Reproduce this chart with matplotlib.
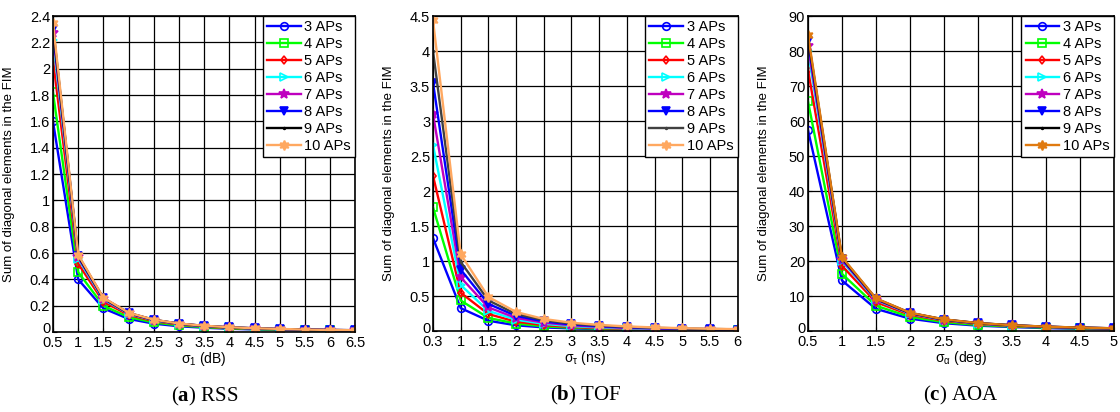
import numpy as np
import matplotlib
matplotlib.use("Agg")
import matplotlib.pyplot as plt
from matplotlib.transforms import ScaledTranslation

plt.rcParams["font.family"] = ["Liberation Sans", "DejaVu Sans"]
plt.rcParams["mathtext.fontset"] = "custom"
plt.rcParams["mathtext.rm"] = "Liberation Sans"
plt.rcParams["mathtext.it"] = "Liberation Sans"
plt.rcParams["mathtext.bf"] = "Liberation Serif:bold"
plt.rcParams["mathtext.default"] = "regular"

labels = ["3 APs", "4 APs", "5 APs", "6 APs", "7 APs", "8 APs", "9 APs", "10 APs"]

# RSS: sigma_1 (dB)
rss_x = [0.5, 1, 1.5, 2, 2.5, 3, 3.5, 4, 4.5, 5, 5.5, 6, 6.5]
rss_3 = [1.60, 0.40, 0.180, 0.100, 0.064, 0.044, 0.033, 0.025, 0.020, 0.016, 0.013, 0.011, 0.009]
rss_4 = [1.82, 0.455, 0.200, 0.114, 0.073, 0.051, 0.037, 0.028, 0.022, 0.018, 0.015, 0.013, 0.011]
rss_5 = [2.07, 0.52, 0.230, 0.130, 0.083, 0.058, 0.042, 0.032, 0.026, 0.021, 0.017, 0.014, 0.012]
rss_6 = [2.22, 0.555, 0.247, 0.139, 0.089, 0.062, 0.045, 0.035, 0.027, 0.022, 0.018, 0.015, 0.013]
rss_7 = [2.27, 0.567, 0.252, 0.142, 0.091, 0.063, 0.046, 0.035, 0.028, 0.023, 0.019, 0.016, 0.013]
rss_8 = [2.30, 0.575, 0.256, 0.144, 0.092, 0.064, 0.047, 0.036, 0.028, 0.023, 0.019, 0.016, 0.014]
rss_9 = [2.32, 0.580, 0.258, 0.145, 0.093, 0.064, 0.047, 0.036, 0.029, 0.023, 0.019, 0.016, 0.014]
rss_10 = [2.35, 0.588, 0.261, 0.147, 0.094, 0.065, 0.048, 0.037, 0.029, 0.024, 0.019, 0.016, 0.014]

# TOF: sigma_tau (ns), plotted on evenly spaced positions
tof_x = ["0.3", "1", "1.5", "2", "2.5", "3", "3.5", "4", "4.5", "5", "5.5", "6"]
tof_3 = [1.33, 0.33, 0.150, 0.085, 0.055, 0.040, 0.030, 0.022, 0.018, 0.015, 0.012, 0.010]
tof_4 = [1.77, 0.44, 0.190, 0.110, 0.070, 0.050, 0.036, 0.028, 0.022, 0.018, 0.015, 0.012]
tof_5 = [2.22, 0.55, 0.245, 0.137, 0.088, 0.061, 0.045, 0.034, 0.027, 0.022, 0.018, 0.015]
tof_6 = [2.66, 0.66, 0.290, 0.165, 0.105, 0.073, 0.054, 0.041, 0.033, 0.026, 0.022, 0.018]
tof_7 = [3.10, 0.77, 0.340, 0.190, 0.123, 0.085, 0.063, 0.048, 0.038, 0.031, 0.025, 0.021]
tof_8 = [3.55, 0.88, 0.390, 0.220, 0.140, 0.097, 0.072, 0.055, 0.043, 0.035, 0.029, 0.024]
tof_9 = [4.00, 0.99, 0.440, 0.247, 0.158, 0.110, 0.081, 0.062, 0.049, 0.040, 0.033, 0.027]
tof_10 = [4.44, 1.10, 0.490, 0.275, 0.175, 0.122, 0.090, 0.069, 0.054, 0.044, 0.036, 0.030]

# AOA: sigma_alpha (deg)
aoa_x = [0.5, 1, 1.5, 2, 2.5, 3, 3.5, 4, 4.5, 5]
aoa_3 = [57.5, 14.5, 6.4, 3.6, 2.3, 1.6, 1.2, 0.90, 0.70, 0.60]
aoa_4 = [65.7, 16.4, 7.3, 4.1, 2.6, 1.8, 1.34, 1.03, 0.81, 0.66]
aoa_5 = [74.7, 18.7, 8.3, 4.7, 3.0, 2.07, 1.52, 1.17, 0.92, 0.75]
aoa_6 = [80.0, 20.0, 8.9, 5.0, 3.2, 2.2, 1.63, 1.25, 0.99, 0.80]
aoa_7 = [81.5, 20.4, 9.05, 5.1, 3.26, 2.26, 1.66, 1.27, 1.00, 0.82]
aoa_8 = [83.0, 20.7, 9.2, 5.2, 3.3, 2.3, 1.70, 1.30, 1.02, 0.83]
aoa_9 = [84.0, 21.0, 9.3, 5.25, 3.36, 2.33, 1.71, 1.31, 1.04, 0.84]
aoa_10 = [84.7, 21.2, 9.4, 5.3, 3.4, 2.35, 1.73, 1.32, 1.05, 0.85]

HEX = (6, 1, 0)
styles = [
    dict(color="#0000ff", marker="o", mfc="none"),
    dict(color="#00ff00", marker="s", mfc="none"),
    dict(color="#ff0000", marker="d", mfc="none", ms=4.5),
    dict(color="#00ffff", marker=">", mfc="none"),
    dict(color="#bf00bf", marker="*", ms=7.5),
    dict(color="#0000ff", marker="v"),
    dict(color="#000000", marker=".", ms=2.5),
    dict(color="#ffa860", marker=HEX, ms=7),
]


def panel(ax, x, series, ylim, ystep, xlabel, xticks, xticklabels=None,
          c9="#000000", c10="#ffa860"):
    for i, (lbl, y) in enumerate(zip(labels, series)):
        st = dict(styles[i])
        if i == 6:
            st["color"] = c9
        if i == 7:
            st["color"] = c10
        st.setdefault("ms", 5.5)
        ax.plot(x, y, lw=1.7, mew=1.2, label=lbl, **st)
    ax.set_ylim(*ylim)
    ax.set_yticks(np.arange(ylim[0], ylim[1] + ystep / 2, ystep))
    ax.yaxis.set_major_formatter(matplotlib.ticker.FormatStrFormatter("%g"))
    ax.set_xticks(xticks)
    if xticklabels is not None:
        ax.set_xticklabels(xticklabels)
    else:
        ax.xaxis.set_major_formatter(matplotlib.ticker.FormatStrFormatter("%g"))
    ax.set_xlim(xticks[0], xticks[-1])
    ax.grid(True, color="black", lw=0.9)
    ax.set_axisbelow(True)
    for s in ax.spines.values():
        s.set_linewidth(1.2)
    ax.tick_params(direction="in", length=3, labelsize=10.5, pad=2)
    ax.tick_params(axis="x", pad=3)
    ax.set_xlabel(xlabel, fontsize=10, labelpad=0)
    ax.set_ylabel("Sum of diagonal elements in the FIM", fontsize=9.5)
    ax.yaxis.set_label_coords(-0.125, 0.5)
    leg = ax.legend(loc="upper right", borderaxespad=0, fontsize=10.5,
                    handlelength=2.3, handletextpad=0.25, labelspacing=0.2,
                    fancybox=False, framealpha=1, edgecolor="black",
                    borderpad=0.3)
    leg.get_frame().set_linewidth(1.0)


fig = plt.figure(figsize=(11.2, 4.12), dpi=100)
ax_a = fig.add_axes([0.0473, 0.194, 0.270, 0.767])
ax_b = fig.add_axes([0.3866, 0.196, 0.272, 0.765])
ax_c = fig.add_axes([0.7214, 0.196, 0.273, 0.765])

panel(ax_a, rss_x, [rss_3, rss_4, rss_5, rss_6, rss_7, rss_8, rss_9, rss_10],
      (0, 2.4), 0.2, r"$\sigma_1$ (dB)", rss_x)

tof_pos = np.arange(len(tof_x))
panel(ax_b, tof_pos, [tof_3, tof_4, tof_5, tof_6, tof_7, tof_8, tof_9, tof_10],
      (0, 4.5), 0.5, r"$\sigma_\tau$ (ns)", tof_pos, tof_x, c9="#404040")

panel(ax_c, aoa_x, [aoa_3, aoa_4, aoa_5, aoa_6, aoa_7, aoa_8, aoa_9, aoa_10],
      (0, 90), 10, r"$\sigma_\alpha$ (deg)", aoa_x, c10="#e07a10")

for ax, letter, name in [(ax_a, "a", "RSS"), (ax_b, "b", "TOF"), (ax_c, "c", "AOA")]:
    ax.text(0.5, -0.205, "($\\mathbf{%s}$) %s" % (letter, name), transform=ax.transAxes,
            ha="center", va="center", fontsize=15, family="Liberation Serif")
    # lift the "0" label a little so it clears the first x label
    zero = ax.get_yticklabels()[0]
    zero.set_transform(zero.get_transform() + ScaledTranslation(0, 3 / 72, fig.dpi_scale_trans))

fig.savefig("out.png", dpi=100)
